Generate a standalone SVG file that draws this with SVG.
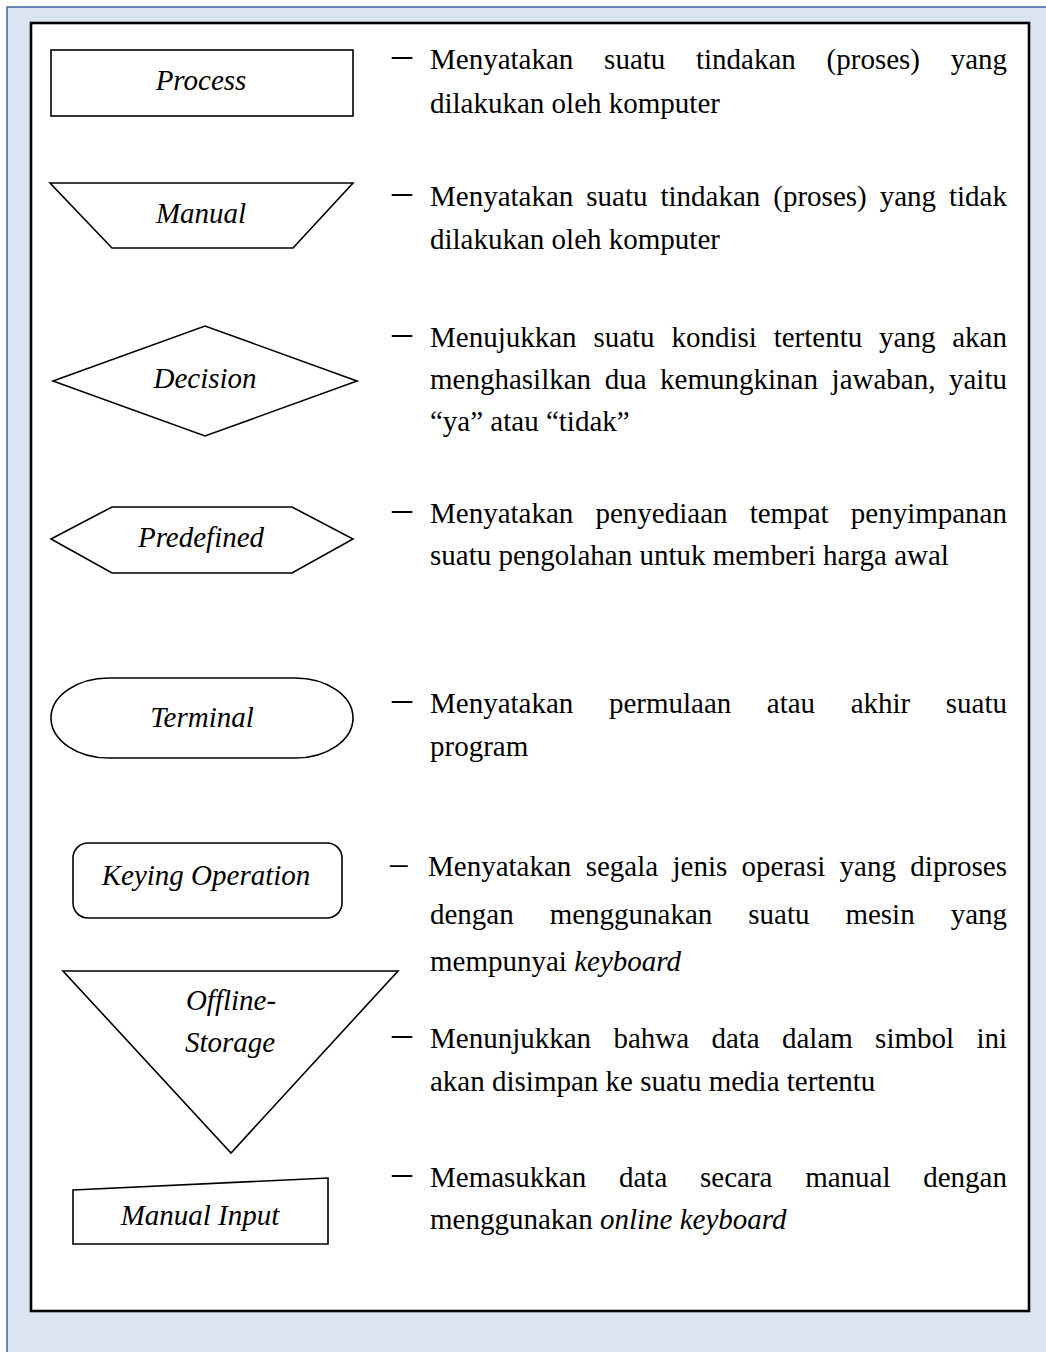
<svg xmlns="http://www.w3.org/2000/svg" width="1046" height="1352" viewBox="0 0 1046 1352">
  <style>
    .shape { fill: #ffffff; stroke: #000000; stroke-width: 1.6; stroke-linejoin: miter; }
    .label { font-family: "Liberation Serif", "Times New Roman", serif; font-style: italic; font-size: 29px; fill: #000000; text-anchor: middle; }
    .body { font-family: "Liberation Serif", "Times New Roman", serif; font-size: 29px; fill: #000000; }
    .dash { font-family: "Liberation Serif", "Times New Roman", serif; font-size: 40px; fill: #000000; }
    .end { text-anchor: end; }
    .it { font-style: italic; }
  </style>

  <!-- page frame -->
  <rect x="7" y="7" width="1100" height="1400" fill="#dbe5f1" stroke="#4a6fa5" stroke-width="1.6"/>
  <rect x="31" y="23" width="998" height="1288" fill="#ffffff" stroke="#000000" stroke-width="2.6"/>

  <!-- flowchart symbols -->
  <g id="process">
    <rect class="shape" x="51" y="50" width="302" height="66"/>
    <text class="label" x="201" y="90">Process</text>
  </g>
  <g id="manual">
    <polygon class="shape" points="50,183 353,183 293,248 112,248"/>
    <text class="label" x="201" y="223">Manual</text>
  </g>
  <g id="decision">
    <polygon class="shape" points="53,381 205,326 357,381 205,436"/>
    <text class="label" x="205" y="388">Decision</text>
  </g>
  <g id="predefined">
    <polygon class="shape" points="51,539 112,507 292,507 353,539 292,573 112,573"/>
    <text class="label" x="201" y="547">Predefined</text>
  </g>
  <g id="terminal">
    <rect class="shape" x="51" y="678" width="302" height="80" rx="58" ry="40"/>
    <text class="label" x="202" y="727">Terminal</text>
  </g>
  <g id="keying-operation">
    <rect class="shape" x="73" y="843" width="269" height="75" rx="15" ry="15"/>
    <text class="label" x="206" y="885">Keying Operation</text>
  </g>
  <g id="offline-storage">
    <polygon class="shape" points="63,971 398,971 231,1153"/>
    <text class="label" x="231" y="1010">Offline-</text>
    <text class="label" x="230" y="1052">Storage</text>
  </g>
  <g id="manual-input">
    <polygon class="shape" points="73,1190 328,1178 328,1244 73,1244"/>
    <text class="label" x="200" y="1225">Manual Input</text>
  </g>

  <!-- descriptions -->
  <g id="desc-process">
    <text class="dash" x="392" y="67">–</text>
    <text class="body" y="69"><tspan x="430">Menyatakan</tspan><tspan x="604.1">suatu</tspan><tspan x="696">tindakan</tspan><tspan x="826.6">(proses)</tspan><tspan class="end" x="1007">yang</tspan></text>
    <text class="body" x="430" y="113">dilakukan oleh komputer</text>
  </g>
  <g id="desc-manual">
    <text class="dash" x="392" y="204">–</text>
    <text class="body" y="206"><tspan x="430">Menyatakan</tspan><tspan x="586.3">suatu</tspan><tspan x="660.5">tindakan</tspan><tspan x="773.3">(proses)</tspan><tspan x="879.7">yang</tspan><tspan class="end" x="1007">tidak</tspan></text>
    <text class="body" x="430" y="249">dilakukan oleh komputer</text>
  </g>
  <g id="desc-decision">
    <text class="dash" x="392" y="345">–</text>
    <text class="body" y="347"><tspan x="430">Menujukkan</tspan><tspan x="593.4">suatu</tspan><tspan x="671.4">kondisi</tspan><tspan x="773.7">tertentu</tspan><tspan x="879.1">yang</tspan><tspan class="end" x="1007">akan</tspan></text>
    <text class="body" y="389"><tspan x="430">menghasilkan</tspan><tspan x="604.7">dua</tspan><tspan x="660.1">kemungkinan</tspan><tspan x="831.6">jawaban,</tspan><tspan class="end" x="1007">yaitu</tspan></text>
    <text class="body" x="430" y="431">“ya” atau “tidak”</text>
  </g>
  <g id="desc-predefined">
    <text class="dash" x="392" y="521">–</text>
    <text class="body" y="523"><tspan x="430">Menyatakan</tspan><tspan x="595.5">penyediaan</tspan><tspan x="749.7">tempat</tspan><tspan class="end" x="1007">penyimpanan</tspan></text>
    <text class="body" x="430" y="565">suatu pengolahan untuk memberi harga awal</text>
  </g>
  <g id="desc-terminal">
    <text class="dash" x="392" y="711">–</text>
    <text class="body" y="713"><tspan x="430">Menyatakan</tspan><tspan x="608.9">permulaan</tspan><tspan x="766.8">atau</tspan><tspan x="850.7">akhir</tspan><tspan class="end" x="1007">suatu</tspan></text>
    <text class="body" x="430" y="756">program</text>
  </g>
  <g id="desc-keying-operation">
    <text class="dash" x="390" y="875" style="font-size:35px">–</text>
    <text class="body" y="876"><tspan x="428">Menyatakan</tspan><tspan x="585.7">segala</tspan><tspan x="672.5">jenis</tspan><tspan x="741.6">operasi</tspan><tspan x="839.6">yang</tspan><tspan class="end" x="1007">diproses</tspan></text>
    <text class="body" y="924"><tspan x="430">dengan</tspan><tspan x="549.7">menggunakan</tspan><tspan x="748.3">suatu</tspan><tspan x="845.4">mesin</tspan><tspan class="end" x="1007">yang</tspan></text>
    <text class="body" x="430" y="971">mempunyai <tspan class="it">keyboard</tspan></text>
  </g>
  <g id="desc-offline-storage">
    <text class="dash" x="392" y="1046">–</text>
    <text class="body" y="1048"><tspan x="430">Menunjukkan</tspan><tspan x="613.4">bahwa</tspan><tspan x="711.4">data</tspan><tspan x="782">dalam</tspan><tspan x="875.1">simbol</tspan><tspan class="end" x="1007">ini</tspan></text>
    <text class="body" x="430" y="1091">akan disimpan ke suatu media tertentu</text>
  </g>
  <g id="desc-manual-input">
    <text class="dash" x="392" y="1185">–</text>
    <text class="body" y="1187"><tspan x="430">Memasukkan</tspan><tspan x="619">data</tspan><tspan x="700">secara</tspan><tspan x="805.2">manual</tspan><tspan class="end" x="1007">dengan</tspan></text>
    <text class="body" x="430" y="1229">menggunakan <tspan class="it">online keyboard</tspan></text>
  </g>
</svg>
